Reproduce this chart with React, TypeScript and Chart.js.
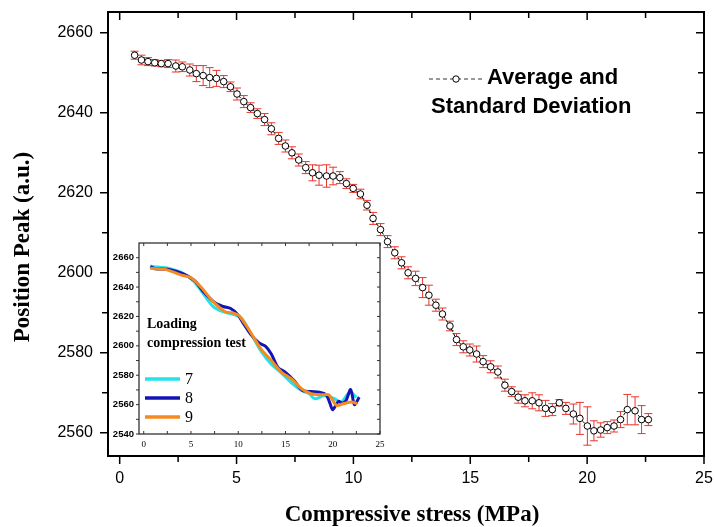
import React, { useEffect, useRef } from "react";
import { Chart, registerables } from "chart.js";

Chart.register(...registerables);

// ---------- main series: average and standard deviation ----------
const STRESS = [
  0.64, 0.93, 1.21, 1.5, 1.78, 2.07, 2.4, 2.68, 3.0, 3.28, 3.57, 3.85, 4.14, 4.45, 4.74,
  5.02, 5.31, 5.6, 5.89, 6.2, 6.49, 6.8, 7.09, 7.37, 7.66, 7.96, 8.25, 8.53, 8.85, 9.13,
  9.42, 9.7, 9.99, 10.3, 10.58, 10.84, 11.16, 11.46, 11.77, 12.06, 12.34, 12.66, 12.96,
  13.23, 13.53, 13.81, 14.13, 14.41, 14.7, 14.98, 15.27, 15.55, 15.87, 16.18, 16.48,
  16.77, 17.05, 17.34, 17.65, 17.94, 18.22, 18.51, 18.81, 19.09, 19.41, 19.69, 20.01,
  20.29, 20.58, 20.86, 21.15, 21.43, 21.72, 22.05, 22.33, 22.62,
];
const PEAK = [
  2654.4, 2653.2, 2652.8, 2652.5, 2652.3, 2652.3, 2651.7, 2651.5, 2650.7, 2649.8, 2649.3,
  2648.8, 2648.6, 2647.8, 2646.5, 2644.7, 2642.8, 2641.3, 2639.8, 2638.3, 2636.0, 2633.6,
  2631.7, 2630.0, 2628.2, 2626.3, 2625.0, 2624.4, 2624.2, 2624.2, 2623.8, 2622.3, 2621.1,
  2619.7, 2616.9, 2613.6, 2610.8, 2607.8, 2605.0, 2602.5, 2600.0, 2598.6, 2596.3, 2594.4,
  2591.9, 2589.7, 2586.7, 2583.3, 2581.5, 2580.7, 2579.7, 2577.8, 2576.5, 2575.2, 2571.9,
  2570.3, 2568.9, 2568.0, 2568.0, 2567.5, 2566.1, 2565.8, 2567.5, 2566.1, 2564.7, 2563.6,
  2561.7, 2560.5, 2560.7, 2561.3, 2561.7, 2563.3, 2565.8, 2565.5, 2563.3, 2563.3,
];
const PEAK_SD = [
  1.0, 1.2, 1.0, 0.8, 0.8, 1.0, 1.5, 1.2, 1.5, 2.0, 2.5, 2.5, 2.0, 1.5, 1.2, 1.5, 1.5, 1.2,
  1.2, 1.5, 1.5, 1.5, 1.5, 1.5, 1.5, 1.5, 2.0, 2.5, 2.8, 2.2, 1.5, 1.2, 1.0, 1.2, 1.2, 1.5,
  1.5, 1.5, 1.5, 1.5, 1.5, 1.8, 2.5, 2.5, 1.5, 1.5, 1.2, 1.5, 1.5, 1.5, 2.0, 1.5, 1.5, 1.5,
  1.5, 1.2, 1.5, 1.5, 2.0, 2.0, 2.0, 1.5, 0.8, 1.5, 2.5, 4.0, 4.8, 2.5, 1.8, 1.5, 1.5, 2.0,
  3.8, 3.5, 3.5, 1.5,
];

const X_TICKS = [0, 5, 10, 15, 20, 25];
const X_MINOR = [0, 2.5, 5, 7.5, 10, 12.5, 15, 17.5, 20, 22.5, 25];
const Y_TICKS = [2560, 2580, 2600, 2620, 2640, 2660];
const Y_MINOR = [2560, 2570, 2580, 2590, 2600, 2610, 2620, 2630, 2640, 2650, 2660];

const X_TITLE = "Compressive stress (MPa)";
const Y_TITLE = "Position Peak (a.u.)";
const LEGEND_LINE1 = "Average and";
const LEGEND_LINE2 = "Standard Deviation";

// ---------- inset: loading compression tests 7, 8, 9 ----------
const INSET_TITLE1 = "Loading";
const INSET_TITLE2 = "compression test";
const TEST_LABELS = ["7", "8", "9"];
const TEST_COLORS = ["#22E3EC", "#1414B4", "#F58A1E"];

const T7_X = [0.7, 1.5, 2.5, 3.3, 4.1, 5.2, 6.2, 7.3, 8.3, 9.4, 10.3, 11.2, 12.4, 13.5, 14.5, 15.6, 16.7, 17.5, 18.1, 19.1, 20.2, 20.9, 21.8, 22.5];
const T7_Y = [2654.3, 2653.6, 2653.0, 2651.5, 2649.6, 2644.6, 2636.5, 2627.0, 2623.4, 2621.6, 2619.0, 2610.0, 2596.5, 2587.5, 2582.0, 2575.0, 2569.6, 2567.5, 2564.0, 2566.0, 2564.0, 2561.7, 2568.5, 2565.0];

const T8_X = [0.7, 1.2, 2.5, 3.4, 4.3, 5.4, 6.4, 7.5, 8.4, 9.2, 9.9, 10.6, 11.3, 12.2, 12.9, 13.5, 14.2, 15.0, 15.9, 16.8, 17.7, 18.6, 19.3, 19.7, 20.0, 20.6, 21.0, 21.4, 21.9, 22.3, 22.8];
const T8_Y = [2653.9, 2652.5, 2652.1, 2650.8, 2648.7, 2644.2, 2636.3, 2629.5, 2626.8, 2625.4, 2621.6, 2614.8, 2608.0, 2602.0, 2599.7, 2594.5, 2585.4, 2582.0, 2576.4, 2569.6, 2568.9, 2568.5, 2566.7, 2561.0, 2556.5, 2562.2, 2561.0, 2562.8, 2570.3, 2560.0, 2565.1];

const T9_X = [0.7, 1.4, 2.2, 3.0, 4.0, 5.0, 6.1, 7.1, 8.2, 8.7, 9.1, 9.6, 10.1, 11.2, 12.4, 13.5, 14.6, 15.6, 16.7, 17.7, 18.8, 19.6, 20.4, 21.1, 22.0, 22.6];
const T9_Y = [2652.8, 2652.4, 2652.1, 2650.5, 2648.1, 2646.4, 2639.7, 2631.8, 2625.0, 2623.0, 2622.6, 2622.0, 2620.5, 2610.3, 2597.9, 2590.0, 2582.0, 2577.6, 2570.8, 2567.4, 2566.7, 2566.5, 2559.5, 2560.6, 2561.7, 2560.6];

const INSET_X_TICKS = [0, 5, 10, 15, 20, 25];
const INSET_X_MINOR = [0, 2.5, 5, 7.5, 10, 12.5, 15, 17.5, 20, 22.5, 25];
const INSET_Y_TICKS = [2540, 2560, 2580, 2600, 2620, 2640, 2660];
const INSET_Y_MINOR = [2540, 2550, 2560, 2570, 2580, 2590, 2600, 2610, 2620, 2630, 2640, 2650, 2660];

const SANS = '"Liberation Sans", Arial, sans-serif';
const SERIF = '"Liberation Serif", "Times New Roman", serif';

const toPoints = (xs: number[], ys: number[]) => xs.map((x, i) => ({ x, y: ys[i] }));

const fixSize = (prop: "width" | "height", size: number) => (s: any) => {
  s[prop] = size;
  s.paddingTop = 0;
  s.paddingBottom = 0;
  s.paddingLeft = 0;
  s.paddingRight = 0;
};

const mainPlugin = {
  id: "mainDecor",
  beforeDatasetsDraw(chart: any) {
    const { ctx, scales } = chart;
    const xs = scales.x;
    const ys = scales.y;
    ctx.save();
    ctx.strokeStyle = "#E8362C";
    ctx.lineWidth = 1;
    STRESS.forEach((x, i) => {
      const px = xs.getPixelForValue(x);
      const top = ys.getPixelForValue(PEAK[i] + PEAK_SD[i]);
      const bot = ys.getPixelForValue(PEAK[i] - PEAK_SD[i]);
      ctx.beginPath();
      ctx.moveTo(px, top);
      ctx.lineTo(px, bot);
      ctx.moveTo(px - 4, top);
      ctx.lineTo(px + 4, top);
      ctx.moveTo(px - 4, bot);
      ctx.lineTo(px + 4, bot);
      ctx.stroke();
    });
    ctx.restore();
  },
  afterDraw(chart: any) {
    const { ctx, chartArea: a, scales } = chart;
    const xs = scales.x;
    const ys = scales.y;
    ctx.save();
    ctx.strokeStyle = "#000";
    ctx.lineWidth = 2;
    ctx.strokeRect(a.left, a.top, a.right - a.left, a.bottom - a.top);
    ctx.lineWidth = 1.5;
    ctx.beginPath();
    X_MINOR.forEach((v) => {
      const p = xs.getPixelForValue(v);
      const len = X_TICKS.includes(v) ? 8 : 6;
      ctx.moveTo(p, a.bottom);
      ctx.lineTo(p, a.bottom + len);
      ctx.moveTo(p, a.top);
      ctx.lineTo(p, a.top + len);
    });
    Y_MINOR.forEach((v) => {
      const p = ys.getPixelForValue(v);
      const len = Y_TICKS.includes(v) ? 8 : 6;
      ctx.moveTo(a.left, p);
      ctx.lineTo(a.left - len, p);
      ctx.moveTo(a.right, p);
      ctx.lineTo(a.right - len, p);
    });
    ctx.stroke();

    // axis titles
    ctx.fillStyle = "#000";
    ctx.font = `bold 23px ${SERIF}`;
    ctx.textAlign = "center";
    ctx.textBaseline = "middle";
    ctx.fillText(X_TITLE, 412, 515);
    ctx.save();
    ctx.translate(23, 247);
    ctx.rotate(-Math.PI / 2);
    ctx.fillText(Y_TITLE, 0, 0);
    ctx.restore();

    // legend
    ctx.strokeStyle = "#333";
    ctx.lineWidth = 1;
    ctx.setLineDash([4, 3]);
    ctx.beginPath();
    ctx.moveTo(429, 79);
    ctx.lineTo(484, 79);
    ctx.stroke();
    ctx.setLineDash([]);
    ctx.beginPath();
    ctx.arc(456, 79, 3.2, 0, Math.PI * 2);
    ctx.fillStyle = "#fff";
    ctx.fill();
    ctx.strokeStyle = "#000";
    ctx.stroke();
    ctx.fillStyle = "#000";
    ctx.font = `bold 22px ${SANS}`;
    ctx.textAlign = "left";
    ctx.fillText(LEGEND_LINE1, 487, 78);
    ctx.fillText(LEGEND_LINE2, 431, 107);
    ctx.restore();
  },
};

const insetPlugin = {
  id: "insetDecor",
  beforeDraw(chart: any) {
    const { ctx, chartArea: a } = chart;
    ctx.save();
    ctx.fillStyle = "#fff";
    ctx.fillRect(a.left, a.top, a.right - a.left, a.bottom - a.top);
    ctx.restore();
  },
  afterDraw(chart: any) {
    const { ctx, chartArea: a, scales } = chart;
    const xs = scales.x;
    const ys = scales.y;
    ctx.save();
    ctx.strokeStyle = "#333";
    ctx.lineWidth = 1.3;
    ctx.strokeRect(a.left, a.top, a.right - a.left, a.bottom - a.top);
    ctx.lineWidth = 1;
    ctx.beginPath();
    INSET_X_MINOR.forEach((v) => {
      const p = xs.getPixelForValue(v);
      ctx.moveTo(p, a.top);
      ctx.lineTo(p, a.top + 3);
      ctx.moveTo(p, a.bottom);
      ctx.lineTo(p, a.bottom - 3);
    });
    INSET_Y_MINOR.forEach((v) => {
      const p = ys.getPixelForValue(v);
      ctx.moveTo(a.left, p);
      ctx.lineTo(a.left - 3, p);
      ctx.moveTo(a.right, p);
      ctx.lineTo(a.right - 3, p);
    });
    ctx.stroke();

    ctx.fillStyle = "#000";
    ctx.font = `bold 14px ${SERIF}`;
    ctx.textAlign = "left";
    ctx.textBaseline = "middle";
    ctx.fillText(INSET_TITLE1, 47, 89);
    ctx.fillText(INSET_TITLE2, 47, 108);

    const rows = [144, 163, 182];
    ctx.font = `16px ${SERIF}`;
    TEST_LABELS.forEach((lab, i) => {
      ctx.strokeStyle = TEST_COLORS[i];
      ctx.lineWidth = 3.5;
      ctx.beginPath();
      ctx.moveTo(45, rows[i]);
      ctx.lineTo(80, rows[i]);
      ctx.stroke();
      ctx.fillText(lab, 85, rows[i] + 1);
    });
    ctx.restore();
  },
};

export default function App() {
  const mainRef = useRef<HTMLCanvasElement | null>(null);
  const insetRef = useRef<HTMLCanvasElement | null>(null);

  useEffect(() => {
    if (!mainRef.current || !insetRef.current) return;
    const main = new Chart(mainRef.current, {
      type: "scatter",
      data: {
        datasets: [
          {
            label: LEGEND_LINE1 + " " + LEGEND_LINE2,
            data: toPoints(STRESS, PEAK),
            showLine: true,
            borderColor: "#000",
            borderWidth: 1,
            borderDash: [3, 2],
            pointRadius: 3.3,
            pointBackgroundColor: "#fff",
            pointBorderColor: "#000",
            pointBorderWidth: 1,
          } as any,
        ],
      },
      options: {
        responsive: false,
        animation: false,
        events: [],
        layout: { padding: { left: 0, top: 12, right: 11, bottom: 0 } },
        plugins: { legend: { display: false }, tooltip: { enabled: false } },
        scales: {
          x: {
            type: "linear",
            min: -0.5,
            max: 25,
            afterBuildTicks: (s: any) => {
              s.ticks = X_TICKS.map((v) => ({ value: v }));
            },
            afterFit: fixSize("height", 71),
            grid: { display: false, drawTicks: false },
            border: { display: false },
            ticks: {
              padding: 13,
              color: "#000",
              maxRotation: 0,
              font: { family: SANS, size: 16 },
              callback: (v: any) => String(v),
            },
          },
          y: {
            type: "linear",
            min: 2554.2,
            max: 2665.2,
            afterBuildTicks: (s: any) => {
              s.ticks = Y_TICKS.map((v) => ({ value: v }));
            },
            afterFit: fixSize("width", 108),
            grid: { display: false, drawTicks: false },
            border: { display: false },
            ticks: {
              padding: 15,
              color: "#000",
              font: { family: SANS, size: 16 },
              callback: (v: any) => String(v),
            },
          },
        },
      } as any,
      plugins: [mainPlugin],
    });

    const series = [
      [T7_X, T7_Y],
      [T8_X, T8_Y],
      [T9_X, T9_Y],
    ];
    const inset = new Chart(insetRef.current, {
      type: "scatter",
      data: {
        datasets: series.map(([xs, ys], i) => ({
          label: TEST_LABELS[i],
          data: toPoints(xs, ys),
          showLine: true,
          borderColor: TEST_COLORS[i],
          borderWidth: 3,
          pointRadius: 0,
          tension: 0.3,
          order: 2 - i,
        })) as any,
      },
      options: {
        responsive: false,
        animation: false,
        events: [],
        layout: { padding: { left: 0, top: 8, right: 10, bottom: 0 } },
        plugins: { legend: { display: false }, tooltip: { enabled: false } },
        scales: {
          x: {
            type: "linear",
            min: -0.5,
            max: 25,
            afterBuildTicks: (s: any) => {
              s.ticks = INSET_X_TICKS.map((v) => ({ value: v }));
            },
            afterFit: fixSize("height", 21),
            grid: { display: false, drawTicks: false },
            border: { display: false },
            ticks: {
              padding: 5,
              color: "#000",
              maxRotation: 0,
              font: { family: SERIF, size: 9 },
              callback: (v: any) => String(v),
            },
          },
          y: {
            type: "linear",
            min: 2540,
            max: 2670,
            afterBuildTicks: (s: any) => {
              s.ticks = INSET_Y_TICKS.map((v) => ({ value: v }));
            },
            afterFit: fixSize("width", 39),
            grid: { display: false, drawTicks: false },
            border: { display: false },
            ticks: {
              padding: 5,
              color: "#000",
              font: { family: SANS, size: 9.5, weight: "bold" },
              callback: (v: any) => String(v),
            },
          },
        },
      } as any,
      plugins: [insetPlugin],
    });

    return () => {
      main.destroy();
      inset.destroy();
    };
  }, []);

  return (
    <div style={{ position: "absolute", left: 0, top: 0, width: 715, height: 527, background: "#fff" }}>
      <canvas ref={mainRef} width={715} height={527} style={{ position: "absolute", left: 0, top: 0 }} />
      <canvas ref={insetRef} width={290} height={220} style={{ position: "absolute", left: 100, top: 235 }} />
    </div>
  );
}
